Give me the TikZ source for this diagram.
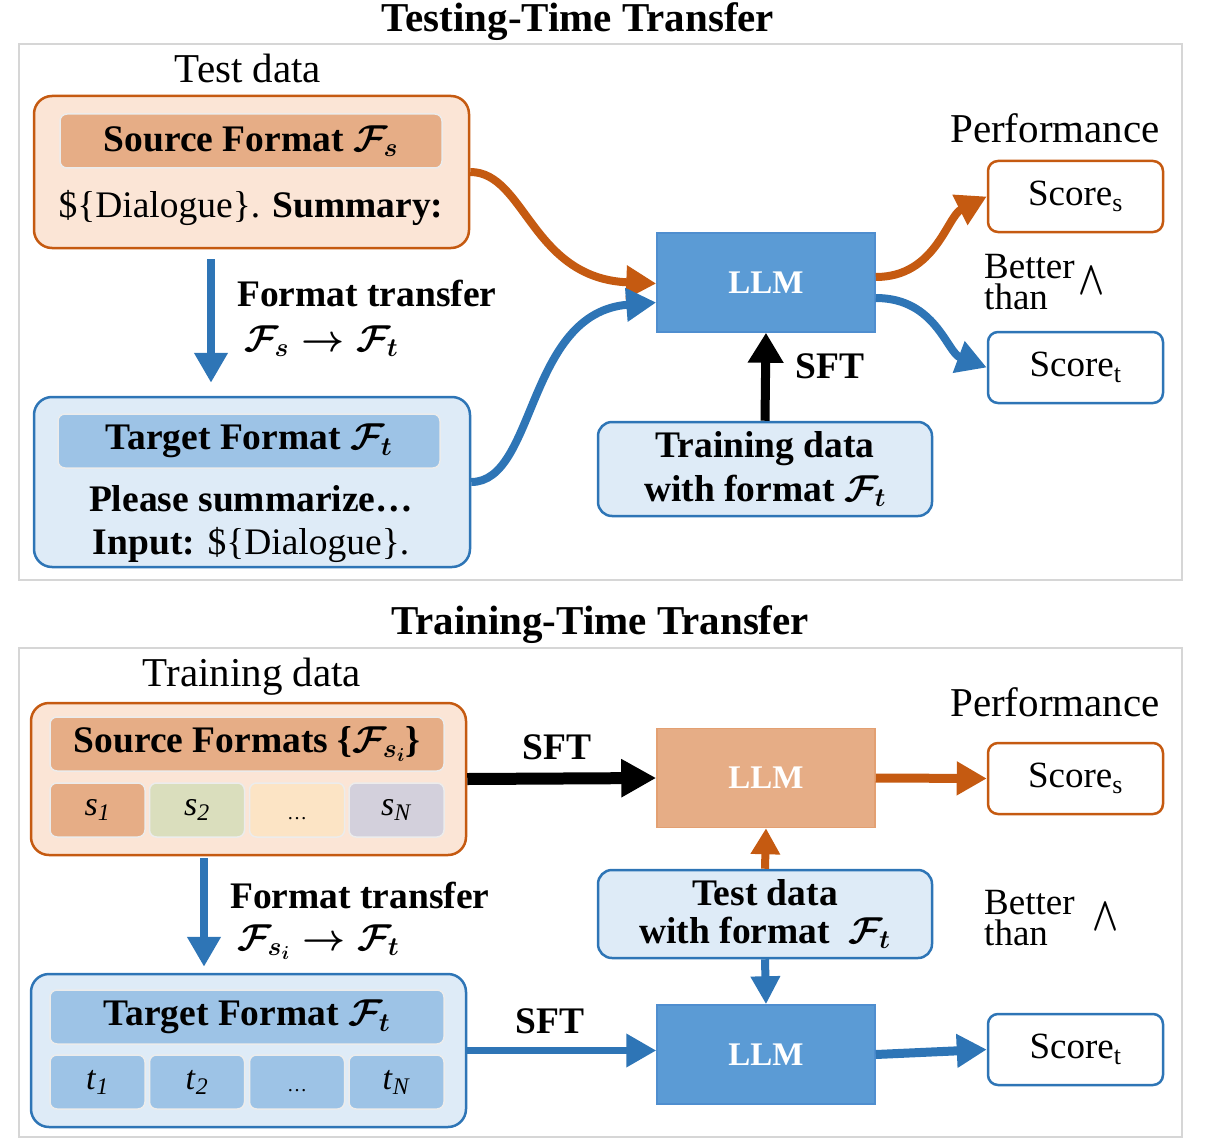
\documentclass[tikz,border=0pt]{standalone}
\usepackage{fix-cm}
\usepackage{fontspec}
\setmainfont{Liberation Serif}
\usepackage{graphicx}
\usetikzlibrary{arrows.meta}

\definecolor{orangeline}{HTML}{C55A11}
\definecolor{peach}{HTML}{FBE5D6}
\definecolor{peachdark}{HTML}{E6AD86}
\definecolor{blueline}{HTML}{2E75B6}
\definecolor{lightblue}{HTML}{DEEBF7}
\definecolor{bluehead}{HTML}{9DC3E6}
\definecolor{llmblue}{HTML}{5B9BD5}
\definecolor{llmblueline}{HTML}{4F8ECF}
\definecolor{llmorangeline}{HTML}{E3A072}
\definecolor{cellgreen}{HTML}{DADEBD}
\definecolor{cellyellow}{HTML}{FCE4C5}
\definecolor{celllav}{HTML}{D3D0DC}
\definecolor{framegray}{HTML}{D6D6D6}

\begin{document}
\begin{tikzpicture}[x=1pt,y=-1pt,
	every node/.style={inner sep=0pt},
	ttl/.style={font=\fontsize{41}{48}\selectfont\bfseries},
	txt/.style={font=\fontsize{41}{48}\selectfont},
	body/.style={font=\fontsize{37.5}{44}\selectfont},
	bf/.style={font=\fontsize{37.5}{44}\selectfont\bfseries\boldmath},
	better/.style={font=\fontsize{37}{31}\selectfont, anchor=west, align=left},
	wedge/.style={font=\fontsize{40}{40}\selectfont\boldmath},
	panel/.style={draw=framegray, line width=2pt},
	srcbox/.style={draw=orangeline, fill=peach, line width=2.5pt, rounded corners=18pt},
	tgtbox/.style={draw=blueline, fill=lightblue, line width=2.5pt, rounded corners=18pt},
	head/.style={draw=white!85!gray, line width=1.5pt, rounded corners=7pt},
	cell/.style={draw=white!85!gray, line width=1.5pt, rounded corners=7pt,
		minimum width=95pt, minimum height=54pt, font=\fontsize{34}{34}\selectfont},
	llm/.style={minimum width=218pt, minimum height=99pt, line width=1.5pt,
		text=white, font=\fontsize{33}{33}\selectfont\bfseries},
	score/.style={fill=white, rounded corners=10pt, line width=2.5pt,
		minimum width=175pt, minimum height=71pt, font=\fontsize{37}{37}\selectfont},
	arr/.style={line width=8pt, -{Triangle[length=30pt,width=32pt]}}]
	\useasboundingbox (0,0) rectangle (1209,1142);

	% testing-time transfer
	\node[ttl] (ttlA) at (578,22) {Testing-Time Transfer};
	\draw[panel] (19,44) rectangle (1182,580);
	\node[txt] (dataA) at (248,68) {Test data};

	\node[srcbox, minimum width=435pt, minimum height=152pt] (srcA) at (251.5,172) {};
	\node[head, fill=peachdark, minimum width=382pt, minimum height=54pt, bf] (srcheadA) at (251,141) {Source Format $\mathcal{F}_s$};
	\node[body] (srcbodyA) at (251,208) {\$\{Dialogue\}. \textbf{Summary:}};

	\node[tgtbox, minimum width=436pt, minimum height=170pt] (tgtA) at (252,482) {};
	\node[head, fill=bluehead, minimum width=382pt, minimum height=54pt, bf] (tgtheadA) at (249,441) {Target Format $\mathcal{F}_t$};
	\node[bf] (tgtbodyA) at (251,499) {Please summarize\ldots};
	\node[body] (tgtinA) at (251,545) {\textbf{Input:} \$\{Dialogue\}.};

	\draw[arr, blueline] ([xshift=-40.5pt,yshift=-10pt]srcA.south) -- ([xshift=-41pt,yshift=13pt]tgtA.north);
	\node[bf, anchor=west] (fmtA) at (237,293) {Format transfer};
	\node[bf, anchor=west] (mapA) at (244,341) {$\mathcal{F}_s \rightarrow \mathcal{F}_t$};

	\node[llm, fill=llmblue, draw=llmblueline] (llmA) at (766,282.5) {LLM};
	\node[tgtbox, rounded corners=14pt, minimum width=334pt, minimum height=94pt, bf, align=center] (trainA) at (765,469) {Training data\\with format $\mathcal{F}_t$};
	\draw[line width=9pt, -{Triangle[length=30pt,width=34pt]}] (trainA.north) -- (llmA.south);
	\node[bf] (sftA) at (830,366) {SFT};

	\draw[arr, orangeline] (srcA.east) .. controls +(55,0) and +(-125,-5) .. ([yshift=-1pt]llmA.west);
	\draw[arr, blueline] (tgtA.east) .. controls +(65,0) and +(-130,10) .. ([yshift=-20pt]llmA.west);

	\node[txt] (perfA) at (1055,128) {Performance};
	\node[score, draw=orangeline] (scsA) at (1075.5,196.5) {Score\textsubscript{s}};
	\node[score, draw=blueline] (sctA) at (1075.5,367.5) {Score\textsubscript{t}};
	\node[better] (betA) at (984,282) {Better\\than};
	\node[wedge] (gtA) at (1092,281) {\scalebox{0.85}[1.2]{$\wedge$}};

	\draw[arr, orangeline] ([yshift=5.5pt]llmA.east) .. controls +(60,0) and +(-40,20) .. (scsA.west);
	\draw[arr, blueline] ([yshift=-15.5pt]llmA.east) .. controls +(60,0) and +(-40,-15) .. (sctA.west);

	% training-time transfer
	\node[ttl] (ttlB) at (600,625) {Training-Time Transfer};
	\draw[panel] (19,648) rectangle (1182,1137);
	\node[txt] (dataB) at (252,677) {Training data};

	\node[srcbox, minimum width=435pt, minimum height=152pt] (srcB) at (248.5,779) {};
	\node[head, fill=peachdark, minimum width=394pt, minimum height=54pt, bf] (srcheadB) at (247,744) {Source Formats \{$\mathcal{F}_{s_i}$\}};
	\node[cell, fill=peachdark] (sB1) at (97.5,810) {\textit{s}\textsubscript{\textit{1}}};
	\node[cell, fill=cellgreen] (sB2) at (197,810) {\textit{s}\textsubscript{\textit{2}}};
	\node[cell, fill=cellyellow, font=\fontsize{20}{20}\selectfont] (sB3) at (297,810) {\raisebox{-9pt}[0pt][0pt]{\ldots}};
	\node[cell, fill=celllav] (sB4) at (396.5,810) {\textit{s}\textsubscript{\textit{N}}};

	\node[tgtbox, minimum width=435pt, minimum height=153pt] (tgtB) at (248.5,1050.5) {};
	\node[head, fill=bluehead, minimum width=394pt, minimum height=54pt, bf] (tgtheadB) at (247,1017) {Target Format $\mathcal{F}_t$};
	\node[cell, fill=bluehead] (tB1) at (97.5,1082) {\textit{t}\textsubscript{\textit{1}}};
	\node[cell, fill=bluehead] (tB2) at (197,1082) {\textit{t}\textsubscript{\textit{2}}};
	\node[cell, fill=bluehead, font=\fontsize{20}{20}\selectfont] (tB3) at (297,1082) {\raisebox{-9pt}[0pt][0pt]{\ldots}};
	\node[cell, fill=bluehead] (tB4) at (396.5,1082) {\textit{t}\textsubscript{\textit{N}}};

	\draw[arr, blueline] ([xshift=-44.5pt,yshift=-2pt]srcB.south) -- ([xshift=-44.5pt,yshift=6pt]tgtB.north);
	\node[bf, anchor=west] (fmtB) at (230,895) {Format transfer};
	\node[bf, anchor=west] (mapB) at (237,942) {$\mathcal{F}_{s_i} \rightarrow \mathcal{F}_t$};

	\node[llm, fill=peachdark, draw=llmorangeline] (llmO) at (766,778) {LLM};
	\node[tgtbox, rounded corners=14pt, minimum width=334pt, minimum height=88pt, bf, align=center] (testB) at (765,914) {Test data\\[-6pt]with format\ \ $\mathcal{F}_t$};
	\node[llm, fill=llmblue, draw=llmblueline] (llmB) at (766,1054.5) {LLM};

	\draw[line width=12pt, -{Triangle[length=35pt,width=36pt]}] (srcB.east) -- (llmO.west);
	\node[bf] (sftB) at (557,747) {SFT};
	\draw[arr, blueline, line width=7pt] (tgtB.east) -- (llmB.west |- tgtB.east);
	\node[bf] (sftC) at (550,1021) {SFT};
	\draw[arr, orangeline, -{Triangle[length=26pt,width=28pt]}] (testB.north) -- (llmO.south);
	\draw[arr, blueline, -{Triangle[length=28pt,width=28pt]}] (testB.south) -- (llmB.north);

	\node[txt] (perfB) at (1055,702) {Performance};
	\node[score, draw=orangeline] (scsB) at (1075.5,778.5) {Score\textsubscript{s}};
	\node[score, draw=blueline] (sctB) at (1075.5,1049.5) {Score\textsubscript{t}};
	\node[better] (betB) at (984,918) {Better\\than};
	\node[wedge] (gtB) at (1106,917) {\scalebox{0.85}[1.2]{$\wedge$}};

	\draw[arr, orangeline, line width=9pt] (llmO.east) -- (scsB.west);
	\draw[arr, blueline, line width=9pt] (llmB.east) -- (sctB.west);
\end{tikzpicture}
\end{document}
